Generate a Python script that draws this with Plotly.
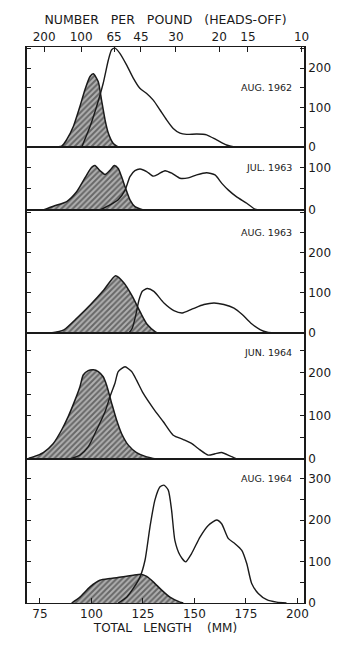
import plotly.graph_objects as go
from plotly.subplots import make_subplots

# ── Data (total length in mm, frequency) ─────────────────────────────────────
labels = ["AUG. 1962", "JUL. 1963", "AUG. 1963", "JUN. 1964", "AUG. 1964"]

shade_1962_x = [79.9, 85.5, 87.9, 91.2, 94.4, 96.8, 99.3, 100.9, 103.3, 104.9, 106.6, 108.2, 110.6, 113.0]
shade_1962_y = [0, 2, 18, 52, 103, 145, 179, 186, 166, 119, 69, 35, 9, 0]
open_1962_x = [95.3, 99.3, 102.5, 105.7, 108.2, 109.8, 111.4, 113.8, 117.1, 120.3, 123.5, 126.8, 130.0,
               133.3, 136.5, 139.7, 143.0, 146.2, 151.1, 155.9, 160.8, 165.6, 168.9, 178.6, 185.1]
open_1962_y = [0, 52, 103, 162, 221, 247, 251, 238, 208, 175, 149, 136, 119,
               94, 69, 47, 35, 32, 33, 31, 18, 5, 1, 1, 0]

shade_jul63_x = [76.6, 81.5, 88.0, 92.8, 97.7, 100.1, 101.7, 104.1, 106.6, 109.0, 111.1, 113.0,
                 114.6, 116.3, 118.7, 121.1, 125.2]
shade_jul63_y = [0, 9, 20, 43, 83, 101, 105, 93, 84, 94, 105, 98, 79, 55, 24, 8, 0]
open_jul63_x = [104.1, 109.0, 113.0, 116.3, 118.7, 121.1, 123.6, 126.8, 130.0, 132.5, 135.7, 139.0,
                143.0, 147.0, 151.1, 155.9, 160.0, 163.3, 166.5, 170.5, 175.4, 179.4, 182.6]
open_jul63_y = [0, 12, 24, 47, 79, 93, 97, 91, 80, 85, 93, 87, 75, 76, 83, 88, 83, 63, 47, 31, 16, 2, 0]

shade_aug63_x = [80.1, 86.6, 93.1, 99.6, 106.1, 111.7, 115.8, 119.8, 123.9, 127.1, 131.2, 132.0]
shade_aug63_y = [0, 8, 38, 71, 108, 143, 125, 92, 50, 21, 2, 0]
open_aug63_x = [118.2, 119.8, 121.4, 123.1, 124.7, 127.1, 130.3, 135.2, 140.0, 144.1, 149.0, 154.6,
                159.5, 164.3, 169.2, 173.2, 177.3, 182.1, 185.4, 188.6]
open_aug63_y = [0, 12, 42, 83, 104, 111, 104, 75, 56, 50, 60, 71, 75, 71, 62, 46, 25, 8, 2, 0]

shade_jun64_x = [69.5, 71.7, 76.6, 81.5, 85.5, 88.7, 92.0, 94.4, 96.0, 98.4, 100.9, 103.3, 105.7, 107.4,
                 109.8, 112.2, 114.6, 117.9, 121.9, 126.8, 131.6]
shade_jun64_y = [2, 5, 15, 36, 67, 98, 136, 167, 194, 204, 206, 202, 190, 170,
                 129, 90, 59, 32, 15, 5, 0]
open_jun64_x = [89.6, 94.4, 98.4, 102.5, 106.6, 109.0, 111.4, 113.0, 116.3, 119.5, 121.9, 125.1,
                130.0, 134.9, 139.7, 144.6, 148.6, 152.7, 156.7, 160.0, 163.2, 167.2, 170.5]
open_jun64_y = [0, 9, 28, 67, 109, 144, 175, 202, 213, 202, 182, 152,
                117, 86, 55, 45, 36, 21, 9, 12, 15, 7, 0]

shade_aug64_x = [90.4, 94.4, 99.3, 104.1, 109.0, 115.5, 120.3, 124.4, 126.8, 130.0, 134.1, 138.1, 143.0, 144.6]
shade_aug64_y = [0, 14, 39, 55, 59, 63, 67, 69, 64, 51, 31, 14, 2, 0]
open_aug64_x = [113.0, 117.1, 120.3, 123.6, 126.0, 128.4, 130.8, 133.3, 135.2, 137.3, 138.9, 140.5,
                143.0, 145.7, 148.6, 152.7, 156.7, 160.8, 163.2, 166.5, 169.7, 173.0, 175.4,
                177.8, 181.0, 185.1, 189.9, 194.7]
open_aug64_y = [0, 14, 35, 63, 103, 183, 248, 280, 284, 272, 224, 151,
                115, 99, 119, 159, 187, 200, 191, 155, 143, 127, 95,
                47, 23, 8, 2, 0]

shaded = [(shade_1962_x, shade_1962_y), (shade_jul63_x, shade_jul63_y), (shade_aug63_x, shade_aug63_y),
          (shade_jun64_x, shade_jun64_y), (shade_aug64_x, shade_aug64_y)]
opened = [(open_1962_x, open_1962_y), (open_jul63_x, open_jul63_y), (open_aug63_x, open_aug63_y),
          (open_jun64_x, open_jun64_y), (open_aug64_x, open_aug64_y)]

# y range tops and where the date label sits in each panel
y_tops = [254, 149, 307, 291, 347]
label_y = [150, 100, 250, 245, 300]
y_labelled = [[0, 100, 200], [0, 100], [0, 100, 200], [0, 100, 200], [0, 100, 200, 300]]

length_ticks = [75, 100, 125, 150, 175, 200]
per_pound_pos = [77, 95, 111, 124, 141, 162, 176, 202]
per_pound_text = ["200", "100", "65", "45", "30", "20", "15", "10"]

# ── Style ─────────────────────────────────────────────────────────────────────
_INK = "#1a1a1a"
_FONT = dict(family="DejaVu Sans, sans-serif", size=11, color=_INK)
X_RANGE = [68.7, 203.2]

# the page body adds an 8px margin, so the figure is drawn 8px smaller
row_px = [100, 63, 123, 126, 144]
fig = make_subplots(rows=5, cols=1, shared_xaxes=True, vertical_spacing=0,
                    row_heights=[h / sum(row_px) for h in row_px])

for i in range(5):
    r = i + 1
    sx, sy = shaded[i]
    ox, oy = opened[i]
    fig.add_trace(go.Scatter(
        x=sx, y=sy, mode="lines", fill="tozeroy",
        line=dict(color=_INK, width=1.5, shape="spline", smoothing=0.6),
        fillcolor="#a8a8a8",
        fillpattern=dict(shape="/", fgcolor="#1e1e1e", bgcolor="#b0b0b0", size=4, solidity=0.5),
        hoverinfo="skip",
    ), row=r, col=1)
    fig.add_trace(go.Scatter(
        x=ox, y=oy, mode="lines",
        line=dict(color=_INK, width=1.4, shape="spline", smoothing=0.6),
        hoverinfo="skip",
    ), row=r, col=1)

    top = y_tops[i]
    vals = [v for v in range(0, int(top) + 1, 50)]
    fig.update_yaxes(
        range=[0, top], side="right", showgrid=False, zeroline=False,
        showline=True, linecolor=_INK, linewidth=1.5, mirror="ticks",
        ticks="inside", ticklen=4, tickcolor=_INK, automargin=False,
        tickvals=vals, ticktext=[str(v) if v in y_labelled[i] else "" for v in vals],
        tickfont=dict(size=12, color=_INK),
        row=r, col=1,
    )
    fig.add_annotation(
        x=X_RANGE[1] - 5, y=label_y[i], xref=f"x{r if r > 1 else ''}", yref=f"y{r if r > 1 else ''}",
        text=labels[i], showarrow=False, xanchor="right", yanchor="middle",
        font=dict(size=9.5, color=_INK),
    )

fig.update_xaxes(range=X_RANGE, showgrid=False, zeroline=False, showline=True,
                 linecolor=_INK, linewidth=1, mirror=True, ticks="", automargin=False)
# bottom: total length
fig.update_xaxes(tickvals=length_ticks, ticks="inside", ticklen=5, tickcolor=_INK,
                 showticklabels=True, tickfont=dict(size=12, color=_INK),
                 title=dict(text="TOTAL   LENGTH    (MM)", font=dict(size=12, color=_INK), standoff=0),
                 row=5, col=1)
# top: number per pound
fig.update_xaxes(side="top", tickvals=per_pound_pos, ticktext=per_pound_text,
                 ticks="inside", ticklen=5, tickcolor=_INK, showticklabels=True,
                 tickfont=dict(size=12, color=_INK),
                 title=dict(text="NUMBER   PER   POUND   (HEADS-OFF)", font=dict(size=12.5, color=_INK),
                            standoff=2),
                 row=1, col=1)

fig.update_layout(
    width=342, height=634,
    font=_FONT,
    plot_bgcolor="white", paper_bgcolor="white",
    showlegend=False,
    margin=dict(l=19, r=46, t=39, b=39),
)

fig.write_html("out.html")
